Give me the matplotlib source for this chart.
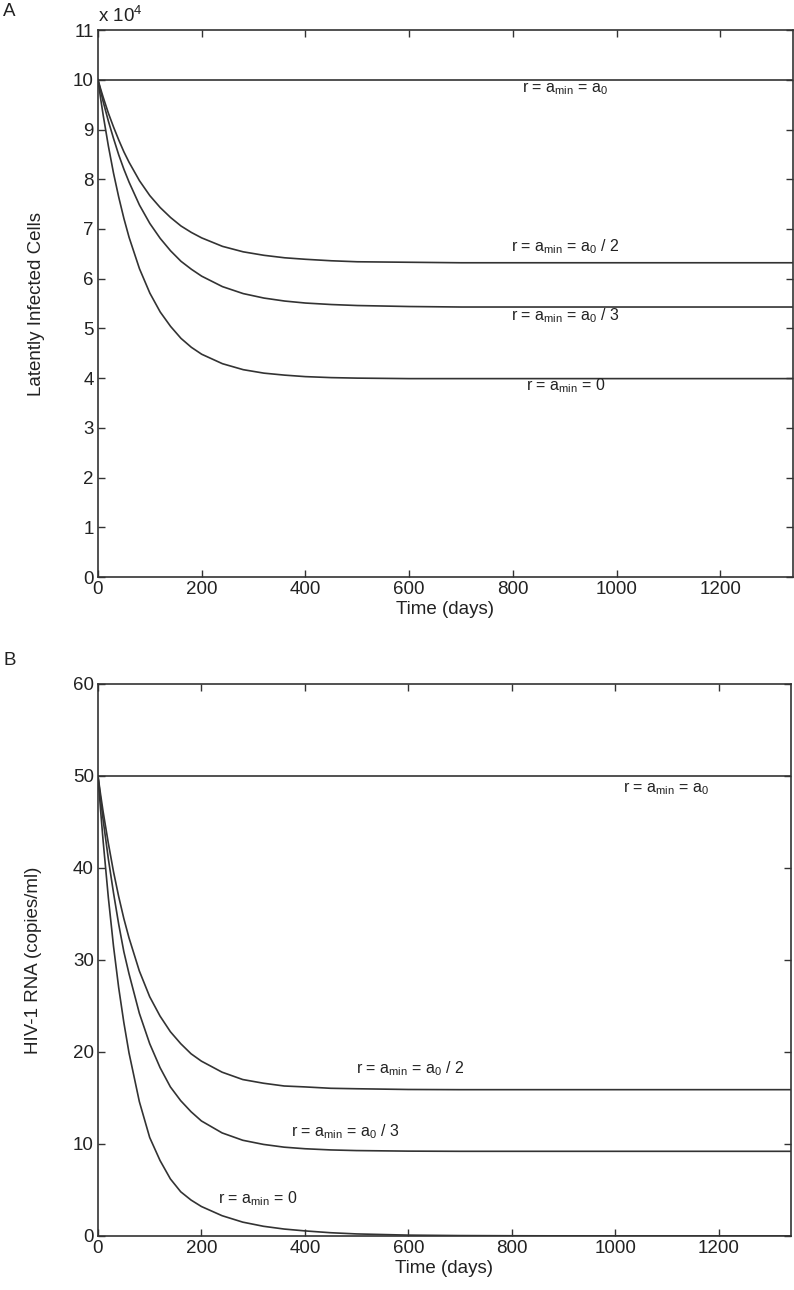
import matplotlib
matplotlib.use("Agg")
import matplotlib.pyplot as plt
import numpy as np

plt.rcParams['font.family'] = ['Liberation Sans', 'DejaVu Sans']
plt.rcParams['mathtext.fontset'] = 'custom'
plt.rcParams['mathtext.rm'] = 'Liberation Sans'
plt.rcParams['mathtext.it'] = 'Liberation Sans'

# time points (days)
t = [0, 5, 10, 20, 30, 40, 50, 60, 80, 100, 120, 140, 160, 180, 200,
     240, 280, 320, 360, 400, 450, 500, 600, 700, 800, 1000, 1200, 1340]

# panel A: latently infected cells (x 10^4)
lat_a0 = [10] * len(t)
lat_half = [10, 9.82, 9.65, 9.33, 9.05, 8.79, 8.55, 8.34, 7.97, 7.67, 7.43, 7.23, 7.06, 6.93, 6.82,
            6.65, 6.54, 6.47, 6.42, 6.39, 6.36, 6.34, 6.33, 6.32, 6.32, 6.32, 6.32, 6.32]
lat_third = [10, 9.78, 9.56, 9.17, 8.82, 8.49, 8.20, 7.94, 7.48, 7.11, 6.81, 6.56, 6.35, 6.19, 6.05,
             5.84, 5.70, 5.61, 5.55, 5.51, 5.48, 5.46, 5.44, 5.43, 5.43, 5.43, 5.43, 5.43]
lat_zero = [10, 9.63, 9.29, 8.67, 8.12, 7.64, 7.21, 6.83, 6.20, 5.71, 5.33, 5.04, 4.80, 4.62, 4.48,
            4.29, 4.17, 4.10, 4.06, 4.03, 4.01, 4.00, 3.99, 3.99, 3.99, 3.99, 3.99, 3.99]

# panel B: HIV-1 RNA (copies/ml)
rna_a0 = [50] * len(t)
rna_half = [50, 48.0, 46.1, 42.7, 39.6, 36.9, 34.5, 32.4, 28.8, 26.0, 23.9, 22.2, 20.9, 19.8, 19.0,
            17.8, 17.0, 16.6, 16.3, 16.2, 16.05, 16.0, 15.92, 15.9, 15.9, 15.9, 15.9, 15.9]
rna_third = [50, 47.5, 45.2, 41.0, 37.3, 33.9, 30.9, 28.5, 24.2, 20.9, 18.3, 16.2, 14.7, 13.5, 12.5,
             11.2, 10.4, 9.95, 9.65, 9.48, 9.35, 9.28, 9.22, 9.2, 9.2, 9.2, 9.2, 9.2]
rna_zero = [50, 46.3, 42.9, 36.8, 31.5, 27.0, 23.2, 19.9, 14.6, 10.7, 8.2, 6.2, 4.8, 3.9, 3.2,
            2.2, 1.5, 1.05, 0.75, 0.55, 0.35, 0.22, 0.09, 0.04, 0.02, 0.0, 0.0, 0.0]

labels = [r'r = a$_{\mathrm{min}}$ = a$_0$',
          r'r = a$_{\mathrm{min}}$ = a$_0$ / 2',
          r'r = a$_{\mathrm{min}}$ = a$_0$ / 3',
          r'r = a$_{\mathrm{min}}$ = 0']

lc = '#333333'
tc = '#222222'
fig = plt.figure(figsize=(7.94, 12.90), dpi=100)
axA = fig.add_axes([0.1234, 0.5527, 0.8753, 0.4240])
axB = fig.add_axes([0.1234, 0.0419, 0.8728, 0.4279])


def style(ax):
    for s in ax.spines.values():
        s.set_color(lc)
        s.set_linewidth(1.2)
    ax.tick_params(direction='in', top=True, right=True, length=5,
                   width=1.0, color=lc, labelsize=13.5, labelcolor=tc, pad=3)
    ax.set_xlim(0, 1340)
    ax.set_xticks(np.arange(0, 1201, 200))
    ax.set_xlabel('Time (days)', fontsize=13.5, color=tc, labelpad=2)


for ys in [lat_a0, lat_half, lat_third, lat_zero]:
    axA.plot(t, ys, color=lc, lw=1.2)
style(axA)
axA.set_ylim(0, 11)
axA.set_yticks(np.arange(0, 12, 1))
axA.set_ylabel('Latently Infected Cells', fontsize=13.5, color=tc, labelpad=20)
axA.text(0.0, 1.008, r'x 10$^4$', transform=axA.transAxes, fontsize=13.5,
         ha='left', va='bottom', color=tc)
for (x, y), lab in zip([(818, 9.74), (796, 6.56), (796, 5.17), (825, 3.76)], labels):
    axA.text(x, y, lab, fontsize=11.5, color=tc, ha='left', va='baseline')

for ys in [rna_a0, rna_half, rna_third, rna_zero]:
    axB.plot(t, ys, color=lc, lw=1.2)
style(axB)
axB.set_ylim(0, 60)
axB.set_yticks(np.arange(0, 61, 10))
axB.set_ylabel('HIV-1 RNA (copies/ml)', fontsize=13.5, color=tc, labelpad=22)
for (x, y), lab in zip([(1015, 48.2), (498, 17.7), (374, 10.85), (232, 3.5)], labels):
    axB.text(x, y, lab, fontsize=11.5, color=tc, ha='left', va='baseline')

fig.text(0.004, 0.991, 'A', fontsize=13.5, color=tc, ha='left', va='center')
fig.text(0.004, 0.488, 'B', fontsize=13.5, color=tc, ha='left', va='center')

fig.savefig('out.png', dpi=100)
